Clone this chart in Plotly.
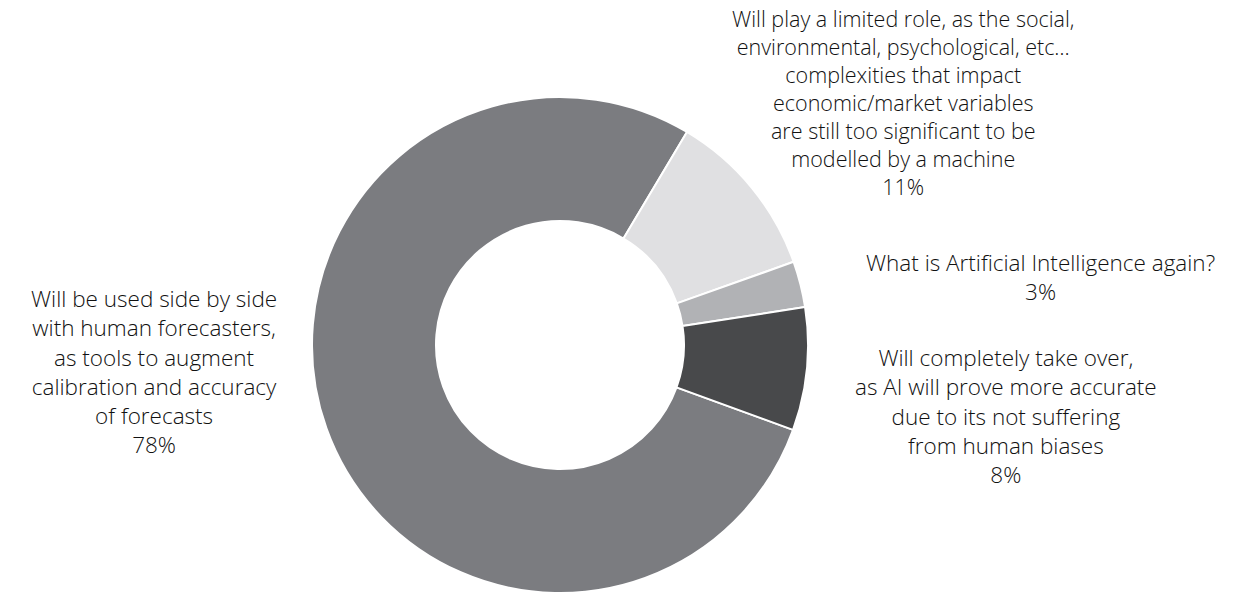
import plotly.graph_objects as go

W, H = 1245, 596

# Survey answers: how AI will be used in economic forecasting
categories = [
    "Will be used side by side<br>with human forecasters,<br>as tools to augment<br>calibration and accuracy<br>of forecasts",
    "Will play a limited role, as the social,<br>environmental, psychological, etc…<br>complexities that impact<br>economic/market variables<br>are still too significant to be<br>modelled by a machine",
    "What is Artificial Intelligence again?",
    "Will completely take over,<br>as AI will prove more accurate<br>due to its not suffering<br>from human biases",
]
shares = [78, 11, 3, 8]
slice_colors = ["#7b7c80", "#e0e0e2", "#b1b2b5", "#48494b"]

# label block centres in pixels (x, y from top) and font sizes
label_pos = [(154, 371), (903, 103), (1040, 277), (1006, 416)]
label_size = [22.5, 21.5, 22.5, 22.5]

cx, cy, r = 560, 345, 248


def px_x(x):
    return x / W


def px_y(y):
    return 1 - y / H


fig = go.Figure(
    go.Pie(
        values=shares,
        labels=[c.replace("<br>", " ") for c in categories],
        marker=dict(colors=slice_colors, line=dict(color="white", width=2)),
        hole=0.5,
        sort=False,
        direction="clockwise",
        rotation=110,
        textinfo="none",
        hoverinfo="label+percent",
        domain=dict(x=[px_x(cx - r), px_x(cx + r)], y=[px_y(cy + r), px_y(cy - r)]),
        showlegend=False,
    )
)

for cat, val, (lx, ly), fs in zip(categories, shares, label_pos, label_size):
    fig.add_annotation(
        x=px_x(lx),
        y=px_y(ly),
        xref="paper",
        yref="paper",
        xanchor="center",
        yanchor="middle",
        align="center",
        showarrow=False,
        text=f"{cat}<br>{val}%",
        font=dict(family="Open Sans", size=fs, weight=350, color="#111111"),
    )

fig.update_layout(
    width=W,
    height=H,
    margin=dict(l=0, r=0, t=0, b=0),
    paper_bgcolor="white",
    plot_bgcolor="white",
)

fig.write_html("out.html")
